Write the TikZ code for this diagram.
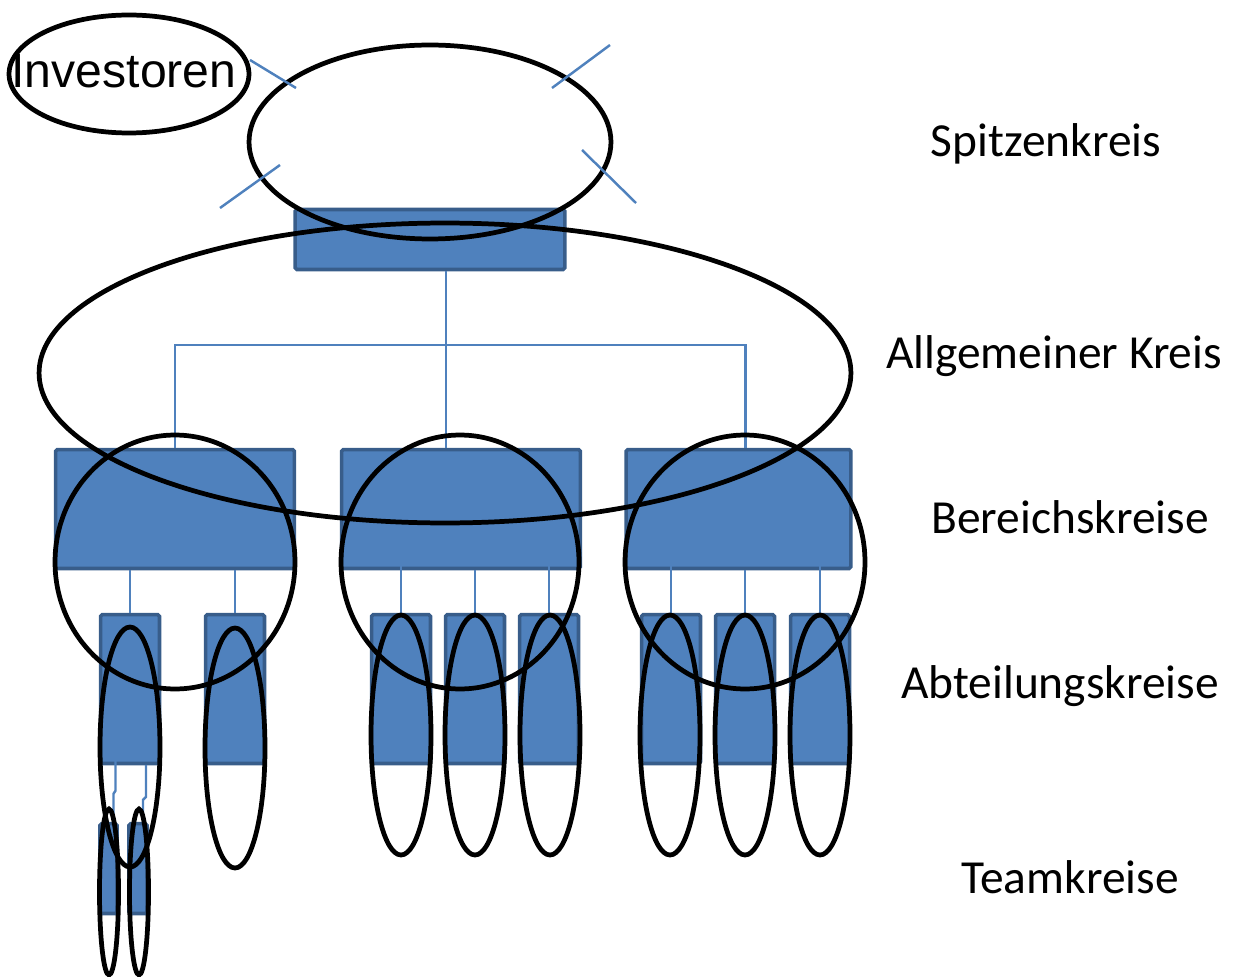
\documentclass[tikz,border=0pt]{standalone}
\usepackage{fontspec}
\setmainfont{Carlito}
\newfontfamily\arialfont{Liberation Sans}
\usepackage{xcolor}
\usepackage{tikz}
\usetikzlibrary{shapes.geometric, positioning, calc}

\definecolor{boxfill}{RGB}{79,129,189}
\definecolor{boxline}{RGB}{56,93,138}

\begin{document}
\begin{tikzpicture}[x=0.02cm, y=-0.02cm,
  unit/.style={rectangle, fill=boxfill, draw=boxline, line width=2pt, rounded corners=1pt, inner sep=0pt},
  kreis/.style={ellipse, draw=black, line width=2.7pt, inner sep=0pt},
  link/.style={draw=boxfill, line width=1.4pt},
  ebene/.style={anchor=base, font=\fontsize{27}{32}\selectfont}]
\useasboundingbox (0,0) rectangle (1236,976);

% Einheiten
\node (top) [unit, minimum width=5.4cm, minimum height=1.2cm] at (430,239.5) {};
\node (b1) [unit, minimum width=4.78cm, minimum height=2.38cm] at (175,509) {};
\node (b2) [unit, minimum width=4.78cm, minimum height=2.38cm] at (461,509) {};
\node (b3) [unit, minimum width=4.5cm, minimum height=2.38cm] at (738.5,509) {};
\node (a1) [unit, minimum width=1.18cm, minimum height=2.98cm] at (130,689) {};
\node (a2) [unit, minimum width=1.18cm, minimum height=2.98cm] at (235,689) {};
\node (a3) [unit, minimum width=1.18cm, minimum height=2.98cm] at (401,689) {};
\node (a4) [unit, minimum width=1.18cm, minimum height=2.98cm] at (475,689) {};
\node (a5) [unit, minimum width=1.18cm, minimum height=2.98cm] at (549,689) {};
\node (a6) [unit, minimum width=1.18cm, minimum height=2.98cm] at (671,689) {};
\node (a7) [unit, minimum width=1.18cm, minimum height=2.98cm] at (745,689) {};
\node (a8) [unit, minimum width=1.18cm, minimum height=2.98cm] at (820,689) {};
\node (t1) [unit, minimum width=0.34cm, minimum height=1.8cm] at (108.5,868.5) {};
\node (t2) [unit, minimum width=0.36cm, minimum height=1.8cm] at (138,868.5) {};

% Verbindungen
\coordinate (bus) at (446,345);
\draw [link] (top.south -| bus) -- (bus);
\draw [link] (b1.north) |- (bus) -| ([xshift=0.14cm]b3.north);
\draw [link] (bus) -- (bus |- b2.north);
\draw [link] (a1.north) -- (a1.north |- b1.south);
\draw [link] (a2.north) -- (a2.north |- b1.south);
\draw [link] (a3.north) -- ++(0,-58);
\draw [link] (a4.north) -- (a4.north |- b2.south);
\draw [link] (a5.north) -- ++(0,-58);
\draw [link] (a6.north) -- ++(0,-58);
\draw [link] (a7.north) -- (a7.north |- b3.south);
\draw [link] (a8.north) -- ++(0,-58);
\draw [link] ([xshift=0.1cm]t1.north) -- ++(0,-28) -- ++(2,-3) -- ++(0,-42);
\draw [link] ([xshift=0.1cm]t2.north) -- ++(0,-22) -- ++(3,-3) -- ++(0,-32);

% Kreise
\node (invest) [kreis, minimum width=4.8cm, minimum height=2.36cm] at (129,74) {};
\node (spitze) [kreis, minimum width=7.24cm, minimum height=3.88cm] at (430,142) {};
\node (allg) [kreis, minimum width=16.24cm, minimum height=6cm] at (445,373) {};
\node (bk1) [kreis, minimum width=4.8cm, minimum height=5.08cm] at (175,562) {};
\node (bk2) [kreis, minimum width=4.76cm, minimum height=5.08cm] at (460,562) {};
\node (bk3) [kreis, minimum width=4.8cm, minimum height=5.08cm] at (745,562) {};
\node (ak1) [kreis, minimum width=1.2cm, minimum height=4.8cm] at (130,747) {};
\node (ak2) [kreis, minimum width=1.2cm, minimum height=4.8cm] at (235,748) {};
\node (ak3) [kreis, minimum width=1.2cm, minimum height=4.8cm] at (401,735) {};
\node (ak4) [kreis, minimum width=1.2cm, minimum height=4.8cm] at (475,735) {};
\node (ak5) [kreis, minimum width=1.2cm, minimum height=4.8cm] at (550,735) {};
\node (ak6) [kreis, minimum width=1.2cm, minimum height=4.8cm] at (670,735) {};
\node (ak7) [kreis, minimum width=1.2cm, minimum height=4.8cm] at (745,735) {};
\node (ak8) [kreis, minimum width=1.2cm, minimum height=4.8cm] at (820,735) {};
\node (tk1) [kreis, minimum width=0.38cm, minimum height=3.32cm] at (109,892) {};
\node (tk2) [kreis, minimum width=0.38cm, minimum height=3.32cm] at (139,892) {};

% Striche am Spitzenkreis
\draw [link] (250,60) -- (296,88);
\draw [link] (552,88) -- (610,45);
\draw [link] (220,208) -- (280,165);
\draw [link] (582,150) -- (636,203);

% Beschriftungen
\node (investtxt) [anchor=base, font=\arialfont\fontsize{27.4}{32}\selectfont] at (124,88) {Investoren};
\node (l1) [ebene] at (1046,157) {Spitzenkreis};
\node (l2) [ebene] at (1054,368) {Allgemeiner Kreis};
\node (l3) [ebene] at (1070,533) {Bereichskreise};
\node (l4) [ebene] at (1060,698) {Abteilungskreise};
\node (l5) [ebene] at (1070,893) {Teamkreise};
\end{tikzpicture}
\end{document}
